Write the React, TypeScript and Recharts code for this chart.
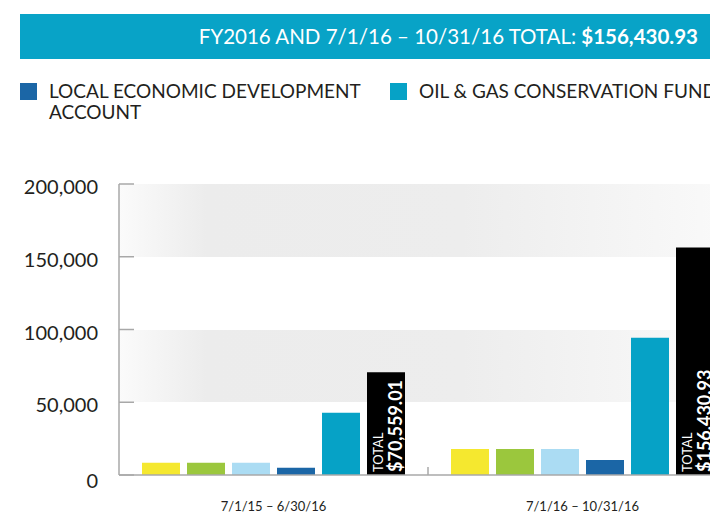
import { Bar, BarChart, CartesianGrid, LabelList, XAxis, YAxis } from "recharts";

const periods = ["7/1/15 – 6/30/16", "7/1/16 – 10/31/16"];
const yellowFund = [8400, 17900];
const greenFund = [8400, 17900];
const lightBlueFund = [8400, 17900];
const localEconDev = [5000, 10300];
const oilGasFund = [42800, 94400];
const totals = [70559.01, 156430.93];
const totalLabels = ["$70,559.01", "$156,430.93"];
const yTicks = [0, 50000, 100000, 150000, 200000];

const data = periods.map((p, i) => ({
  period: p,
  yellow: yellowFund[i],
  green: greenFund[i],
  lightBlue: lightBlueFund[i],
  localEcon: localEconDev[i],
  oilGas: oilGasFund[i],
  total: totals[i],
  totalLabel: totalLabels[i],
}));

const FONT = "Lato, 'Open Sans', sans-serif";
const CHART_W = 743;
const AXIS_W = 119;
const PAD_RIGHT = 6;
const BAND = (CHART_W - AXIS_W - PAD_RIGHT) / 2;

function YTick({ x, y, payload }: any) {
  return (
    <g>
      <line x1={x + 21} x2={x + 36} y1={y} y2={y} stroke="#a8a8a8" strokeWidth={1.5} />
      <text x={x} y={y} dy={payload.value === 0 ? 13 : 10} textAnchor="end" fontSize={20} fill="#231f20" fontFamily={FONT}>
        {payload.value.toLocaleString("en-US")}
      </text>
    </g>
  );
}

function XTick({ x, y, payload, index }: any) {
  return (
    <g>
      {index === 0 && (
        <line x1={x + BAND / 2} x2={x + BAND / 2} y1={467} y2={475} stroke="#a8a8a8" strokeWidth={1.5} />
      )}
      <text x={x} y={y} dy="0.71em" textAnchor="middle" fontSize={13} fill="#231f20" fontFamily={FONT}>
        {payload.value}
      </text>
    </g>
  );
}

function TotalLabel({ x, y, width, height, value }: any) {
  const bottom = y + height - 3;
  return (
    <g fontFamily={FONT}>
      <text transform={`translate(${x + 16},${bottom}) rotate(-90)`} fontSize={13} fill="#fff">
        TOTAL
      </text>
      <text transform={`translate(${x + 35},${bottom}) rotate(-90)`} fontSize={18} fontWeight={700} fill="#fff">
        {value}
      </text>
    </g>
  );
}

export default function App() {
  return (
    <div style={{ position: "absolute", left: 0, top: 0, width: 710, height: 514, overflow: "hidden", background: "#fff", fontFamily: FONT }}>
      <div
        style={{
          position: "absolute", left: 20, top: 14, width: 690, height: 45, background: "#08a3c7",
          color: "#fff", fontSize: 20.5, lineHeight: "45px", textAlign: "right", paddingRight: 12, boxSizing: "border-box",
          whiteSpace: "nowrap",
        }}
      >
        FY2016 AND 7/1/16 – 10/31/16 TOTAL: <b>$156,430.93</b>
      </div>
      <div style={{ position: "absolute", left: 20, top: 83, width: 17, height: 17, background: "#1b66a6" }} />
      <div style={{ position: "absolute", left: 49, top: 80, fontSize: 19, lineHeight: "21px", color: "#231f20", whiteSpace: "nowrap" }}>
        LOCAL ECONOMIC DEVELOPMENT<br />ACCOUNT
      </div>
      <div style={{ position: "absolute", left: 390, top: 83, width: 17, height: 17, background: "#06a2c6" }} />
      <div style={{ position: "absolute", left: 419, top: 80, fontSize: 19, lineHeight: "21px", color: "#231f20", whiteSpace: "nowrap" }}>
        OIL &amp; GAS CONSERVATION FUND
      </div>
      <div style={{ position: "absolute", left: 0, top: 0 }}>
        <BarChart
          width={CHART_W}
          height={514}
          data={data}
          margin={{ top: 184, right: 0, bottom: 0, left: 0 }}
          barSize={38}
          barGap={7}
        >
          <defs>
            <linearGradient id="band" x1="0" y1="0" x2="1" y2="0">
              <stop offset="0%" stopColor="#fbfbfb" />
              <stop offset="14%" stopColor="#ececec" />
              <stop offset="55%" stopColor="#ededed" />
              <stop offset="100%" stopColor="#fafafa" />
            </linearGradient>
          </defs>
          <CartesianGrid vertical={false} stroke="transparent" horizontalFill={["url(#band)", "transparent"]} />
          <XAxis
            dataKey="period"
            height={39}
            padding={{ left: 0, right: PAD_RIGHT }}
            axisLine={{ stroke: "#a8a8a8", strokeWidth: 1.5 }}
            tickLine={false}
            tickSize={0}
            tickMargin={27}
            tick={<XTick />}
          />
          <YAxis
            width={AXIS_W}
            domain={[0, 200000]}
            ticks={yTicks}
            axisLine={{ stroke: "#a8a8a8", strokeWidth: 1.5 }}
            tickLine={false}
            tickSize={0}
            tickMargin={21}
            tick={<YTick />}
          />
          <Bar dataKey="yellow" fill="#f5e82f" isAnimationActive={false} />
          <Bar dataKey="green" fill="#9bc73d" isAnimationActive={false} />
          <Bar dataKey="lightBlue" fill="#abdcf3" isAnimationActive={false} />
          <Bar dataKey="localEcon" fill="#1b66a6" isAnimationActive={false} />
          <Bar dataKey="oilGas" fill="#06a2c6" isAnimationActive={false} />
          <Bar dataKey="total" fill="#000" isAnimationActive={false}>
            <LabelList dataKey="totalLabel" content={<TotalLabel />} />
          </Bar>
        </BarChart>
      </div>
    </div>
  );
}
